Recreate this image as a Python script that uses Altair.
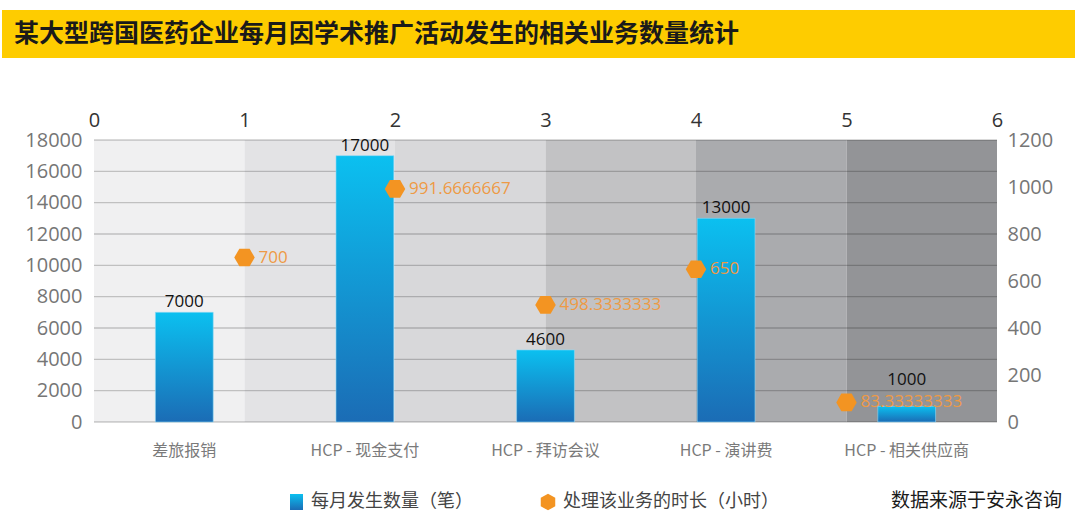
import altair as alt
import pandas as pd

# ---------------- data ----------------
title_text = "某大型跨国医药企业每月因学术推广活动发生的相关业务数量统计"
categories = ["差旅报销", "HCP - 现金支付", "HCP - 拜访会议", "HCP - 演讲费", "HCP - 相关供应商"]
monthly_counts = [7000, 17000, 4600, 13000, 1000]
handling_hours = [700, 991.6666667, 498.3333333, 650, 83.33333333]
left_ticks = [0, 2000, 4000, 6000, 8000, 10000, 12000, 14000, 16000, 18000]
right_ticks = [0, 200, 400, 600, 800, 1000, 1200]
top_ticks = [0, 1, 2, 3, 4, 5, 6]
band_shades = ["#F0F0F1", "#E3E3E5", "#D8D8DA", "#C2C2C4", "#AAABAE", "#939497"]
legend_bar = "每月发生数量（笔）"
legend_point = "处理该业务的时长（小时）"
source_note = "数据来源于安永咨询"

W, H = 903, 282
CJK = "Noto Sans CJK SC"
NUM = "Open Sans"
ORANGE = "#F39422"

bar_grad = alt.Gradient(
    gradient="linear",
    stops=[alt.GradientStop(color="#1B6CB5", offset=0),
           alt.GradientStop(color="#0BC0F0", offset=1)],
    x1=0, x2=0, y1=1, y2=0,
)
hex_flat = "M-1,0L-0.5,-0.866L0.5,-0.866L1,0L0.5,0.866L-0.5,0.866Z"
hex_tall = "M0,-1L0.866,-0.5L0.866,0.5L0,1L-0.866,0.5L-0.866,-0.5Z"

bars_df = pd.DataFrame({"cat": categories, "count": monthly_counts})
pts_df = pd.DataFrame({
    "pos": list(range(1, len(categories) + 1)),
    "time": handling_hours,
    "label": [str(v) for v in handling_hours],
})
bands_df = pd.DataFrame({
    "b0": top_ticks[:-1], "b1": top_ticks[1:], "shade": band_shades,
})
grid_df = pd.DataFrame({"v": left_ticks})
one = pd.DataFrame({"t": [title_text]})

top_scale = alt.Scale(domain=[0, 6], nice=False, zero=False)
left_scale = alt.Scale(domain=[0, 18000], nice=False)
right_scale = alt.Scale(domain=[0, 1200], nice=False)
band_scale = alt.Scale(domain=categories, paddingInner=0.68, paddingOuter=0.34)

# ---------------- decorations ----------------
title_bar = alt.Chart(one).mark_rect(color="#FECC00").encode(
    x=alt.value(-92), x2=alt.value(981), y=alt.value(-130), y2=alt.value(-82)
)
title = alt.Chart(one).mark_text(
    align="left", baseline="middle", font=CJK, fontSize=25, fontWeight="bold", color="#1a1a1a"
).encode(x=alt.value(-80), y=alt.value(-106), text="t:N")

# ---------------- background bands (top axis 0-6) ----------------
bands = alt.Chart(bands_df).mark_rect().encode(
    x=alt.X("b0:Q", scale=top_scale,
            axis=alt.Axis(orient="top", values=top_ticks, format="d", title=None,
                          labelFontSize=20, labelColor="#333333", labelFont=NUM,
                          labelPadding=10, labelFlush=False, labelOverlap=False,
                          domain=False, ticks=False, grid=False)),
    x2="b1:Q",
    y=alt.value(0), y2=alt.value(H),
    color=alt.Color("shade:N", scale=None),
)

grid = alt.Chart(grid_df).mark_rule(color="#000000", opacity=0.2, strokeWidth=1.3).encode(
    y=alt.Y("v:Q", scale=left_scale, axis=None)
)

# ---------------- bars (left axis) ----------------
bars = alt.Chart(bars_df).mark_bar(fill=bar_grad, stroke="#8FD8F5", strokeWidth=0.6).encode(
    x=alt.X("cat:N", sort=categories, scale=band_scale,
            axis=alt.Axis(orient="bottom", title=None, labelAngle=0, labelFontSize=16,
                          labelColor="#7A7A7A", labelFont=CJK, labelPadding=20,
                          domain=False, ticks=False, grid=False)),
    y=alt.Y("count:Q", scale=left_scale,
            axis=alt.Axis(orient="left", values=left_ticks, title=None, format="d",
                          labelFontSize=20, labelColor="#767676", labelFont=NUM,
                          labelPadding=12, domain=False, ticks=False, grid=False)),
)


def bar_label_layer(cond, dy):
    return alt.Chart(bars_df).transform_filter(cond).mark_text(
        baseline="bottom", dy=dy, fontSize=17, font=NUM, color="#111111"
    ).encode(
        x=alt.X("cat:N", sort=categories, scale=band_scale, axis=None),
        y=alt.Y("count:Q", scale=left_scale, axis=None),
        text=alt.Text("count:Q", format="d"),
    )


# labels of very short bars sit higher, above the point label, as in the original
bar_labels = bar_label_layer("datum.count >= 2000", -1)
bar_labels_low = bar_label_layer("datum.count < 2000", -17)

# ---------------- points (right axis) ----------------
points = alt.Chart(pts_df).mark_point(
    shape=hex_flat, size=420, filled=True, color=ORANGE, opacity=1
).encode(
    x=alt.X("pos:Q", scale=top_scale, axis=None),
    y=alt.Y("time:Q", scale=right_scale,
            axis=alt.Axis(orient="right", values=right_ticks, title=None, format="d",
                          labelFontSize=20, labelColor="#767676", labelFont=NUM,
                          labelPadding=10, domain=False, ticks=False, grid=False)),
)
point_labels = alt.Chart(pts_df).mark_text(
    align="left", baseline="middle", dx=14, fontSize=17, font=NUM, color="#EE9A45"
).encode(
    x=alt.X("pos:Q", scale=top_scale, axis=None),
    y=alt.Y("time:Q", scale=right_scale, axis=None),
    text="label:N",
)

# ---------------- legend ----------------
leg_sq = alt.Chart(one).mark_rect(fill=bar_grad).encode(
    x=alt.value(196), x2=alt.value(209), y=alt.value(354), y2=alt.value(370)
)
leg_t1 = alt.Chart(pd.DataFrame({"t": [legend_bar]})).mark_text(
    align="left", baseline="middle", font=CJK, fontSize=18, color="#444444"
).encode(x=alt.value(217), y=alt.value(362), text="t:N")
leg_hex = alt.Chart(one).mark_point(
    shape=hex_tall, size=280, filled=True, color=ORANGE, opacity=1
).encode(x=alt.value(454), y=alt.value(362))
leg_t2 = alt.Chart(pd.DataFrame({"t": [legend_point]})).mark_text(
    align="left", baseline="middle", font=CJK, fontSize=18, color="#444444"
).encode(x=alt.value(469), y=alt.value(362), text="t:N")
src = alt.Chart(pd.DataFrame({"t": [source_note]})).mark_text(
    align="left", baseline="middle", font=CJK, fontSize=19, color="#1a1a1a"
).encode(x=alt.value(797), y=alt.value(361), text="t:N")

chart = alt.layer(
    title_bar, title, bands, grid, bars, bar_labels, bar_labels_low, points, point_labels,
    leg_sq, leg_t1, leg_hex, leg_t2, src,
).resolve_scale(
    x="independent", y="independent"
).properties(
    width=W, height=H,
    padding={"left": 2, "top": 10, "right": 0, "bottom": 0},
    background="#FFFFFF",
).configure_view(stroke=None)

chart.save("out.html", embed_options={"renderer": "svg", "actions": False})
